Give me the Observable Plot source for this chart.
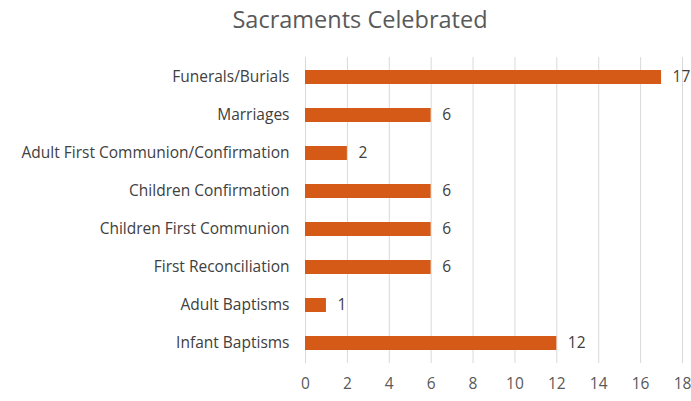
<!DOCTYPE html>
<html>
<head>
<meta charset="utf-8">
<script src="https://cdn.jsdelivr.net/npm/d3@7"></script>
<script src="https://cdn.jsdelivr.net/npm/@observablehq/plot@0.6"></script>
<style>
  html, body { margin: 0; padding: 0; background: #fff; }
  body { width: 691px; height: 401px; overflow: hidden; font-family: "Open Sans", sans-serif; }
  #title { height: 40px; line-height: 38px; text-align: center; padding-left: 29px; box-sizing: border-box; width: 691px; font-size: 23.5px; color: #595959; }
  svg { display: block; }
</style>
</head>
<body>
<div id="title">Sacraments Celebrated</div>
<div id="chart"></div>
<script>
const categories = [
  "Funerals/Burials",
  "Marriages",
  "Adult First Communion/Confirmation",
  "Children Confirmation",
  "Children First Communion",
  "First Reconciliation",
  "Adult Baptisms",
  "Infant Baptisms"
];
const counts = [17, 6, 2, 6, 6, 6, 1, 12];
const xTicks = [0, 2, 4, 6, 8, 10, 12, 14, 16, 18];

const data = categories.map((c, i) => ({category: c, value: counts[i]}));

const chart = Plot.plot({
  width: 691,
  height: 361,
  marginTop: 17,
  marginBottom: 38,
  marginLeft: 305,
  marginRight: 9,
  style: {fontFamily: "Open Sans, sans-serif", fontSize: "15.5px", color: "#595959", background: "#fff"},
  x: {domain: [0, 18], ticks: xTicks, label: null},
  y: {domain: categories, label: null, paddingInner: 0.62, paddingOuter: 0.31},
  marks: [
    Plot.gridX(xTicks, {stroke: "#d9d9d9", strokeOpacity: 1, strokeWidth: 1}),
    Plot.axisX({ticks: xTicks, tickSize: 0, tickPadding: 14, fontSize: 15.5, fill: "#595959", label: null}),
    Plot.axisY({tickSize: 0, tickPadding: 16, fontSize: 15.5, fill: "#404040", label: null}),
    Plot.barX(data, {x: "value", y: "category", fill: "#d55a17"}),
    Plot.text(data, {x: "value", y: "category", text: d => String(d.value), textAnchor: "start", dx: 11, fontSize: 15.5, fill: "#404040"})
  ]
});
document.getElementById("chart").appendChild(chart);
</script>
</body>
</html>
